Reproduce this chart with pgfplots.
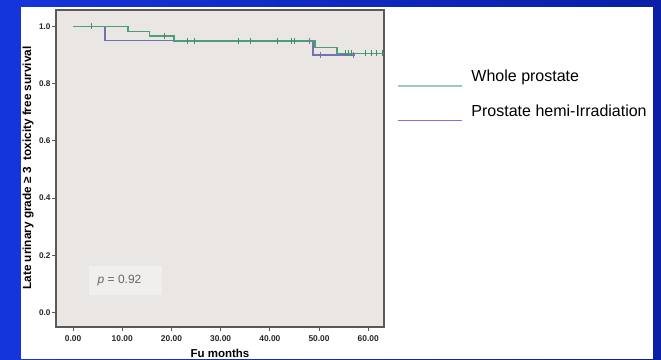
\documentclass[border=0pt]{standalone}
\usepackage{fontspec}
\setmainfont{Liberation Sans}
\usepackage{pgfplots}
\pgfplotsset{compat=1.18}
\definecolor{bgl}{HTML}{1535DC}
\definecolor{bgr}{HTML}{0A1EA6}
\definecolor{plotbg}{HTML}{EAE6E3}
\definecolor{pbox}{HTML}{F1EFED}
\definecolor{wgreen}{HTML}{4C9E78}
\definecolor{cgreen}{HTML}{3C8E66}
\definecolor{hpurple}{HTML}{7472B0}
\definecolor{lgreen}{HTML}{A3C6BC}
\definecolor{lpurple}{HTML}{7878D8}
\definecolor{frame}{HTML}{5A5A5A}
\begin{document}
\begin{tikzpicture}
\useasboundingbox (0,0) rectangle (661pt,359pt);
\clip (0,0) rectangle (661pt,359pt);
\shade[left color=bgl, right color=bgr] (0,0) rectangle (661pt,359pt);
\fill[white] (21pt,0) rectangle (653pt,352pt);
\begin{axis}[
  at={(56pt,32pt)}, anchor=south west,
  scale only axis, width=328pt, height=317pt,
  xmin=-3.46, xmax=63.2, ymin=-0.051, ymax=1.057,
  axis background/.style={fill=plotbg},
  axis line style={draw=frame, line width=1.1pt},
  xtick={0,10,20,30,40,50,60}, ytick={0,0.2,0.4,0.6,0.8,1.0},
  tick pos=left, tick align=outside, major tick length=4pt,
  tick style={draw=frame, line width=0.7pt},
  xticklabel style={font=\bfseries\fontsize{8.4}{10}\selectfont, text=black!85, yshift=-1pt,
    /pgf/number format/.cd, fixed, fixed zerofill, precision=2, assume math mode=true},
  yticklabel style={font=\bfseries\fontsize{8.2}{10}\selectfont, text=black!85, xshift=2pt,
    /pgf/number format/.cd, fixed, fixed zerofill, precision=1, assume math mode=true},
  legend image code/.code={\draw[#1] (0pt,-9pt) -- (64pt,-9pt); \path (73pt,0pt);},
  legend style={at={(axis description cs:1.0396,0.81)}, anchor=north west,
    draw=none, fill=none, inner sep=0pt, outer sep=0pt, row sep=18.6pt,
    nodes={inner sep=0pt, font=\fontsize{16}{19}\selectfont}},
  legend cell align=left,
]
\addplot[const plot, hpurple, line width=1.5pt, forget plot] coordinates {
  (0,1) (6.5,0.950) (48.8,0.899) (57.3,0.899)};
\addplot[const plot, wgreen, line width=1.5pt, forget plot] coordinates {
  (0,1) (11.2,0.9825) (15.5,0.966) (20.5,0.948) (49.2,0.926) (53.6,0.905) (63.2,0.905)};
\addplot[only marks, mark=|, mark size=3pt, hpurple, mark options={line width=1pt}, forget plot] coordinates {
  (48.0,0.950) (50.3,0.899) (57.1,0.899)};
\addplot[only marks, mark=|, mark size=3pt, cgreen, mark options={line width=1pt}, forget plot] coordinates {
  (3.8,1.0) (18.6,0.966) (23.2,0.948) (24.7,0.948) (33.7,0.948) (36.0,0.948) (41.6,0.948) (44.3,0.948) (45.1,0.948)
  (55.3,0.905) (56.0,0.905) (56.6,0.905) (59.5,0.905) (60.6,0.905) (61.7,0.905) (62.9,0.905)};
\addlegendimage{lgreen, line width=1.5pt}
\addlegendentry{Whole prostate}
\addlegendimage{lpurple, line width=1.5pt}
\addlegendentry{Prostate hemi-Irradiation}
\end{axis}
\fill[pbox] (89pt,64pt) rectangle (162pt,93pt);
\node[anchor=west, inner sep=0pt, text=black!60, font=\fontsize{12}{14}\selectfont] at (97.5pt,78.5pt) {\textit{p} = 0.92};
\node[rotate=90, inner sep=0pt, font=\bfseries\fontsize{11.8}{14}\selectfont] at (28pt,191pt) {Late urinary grade ≥ 3\ \ toxicity free survival};
\node[inner sep=0pt, anchor=base, font=\bfseries\fontsize{11.5}{14}\selectfont] at (220pt,2pt) {Fu months};
\end{tikzpicture}
\end{document}
